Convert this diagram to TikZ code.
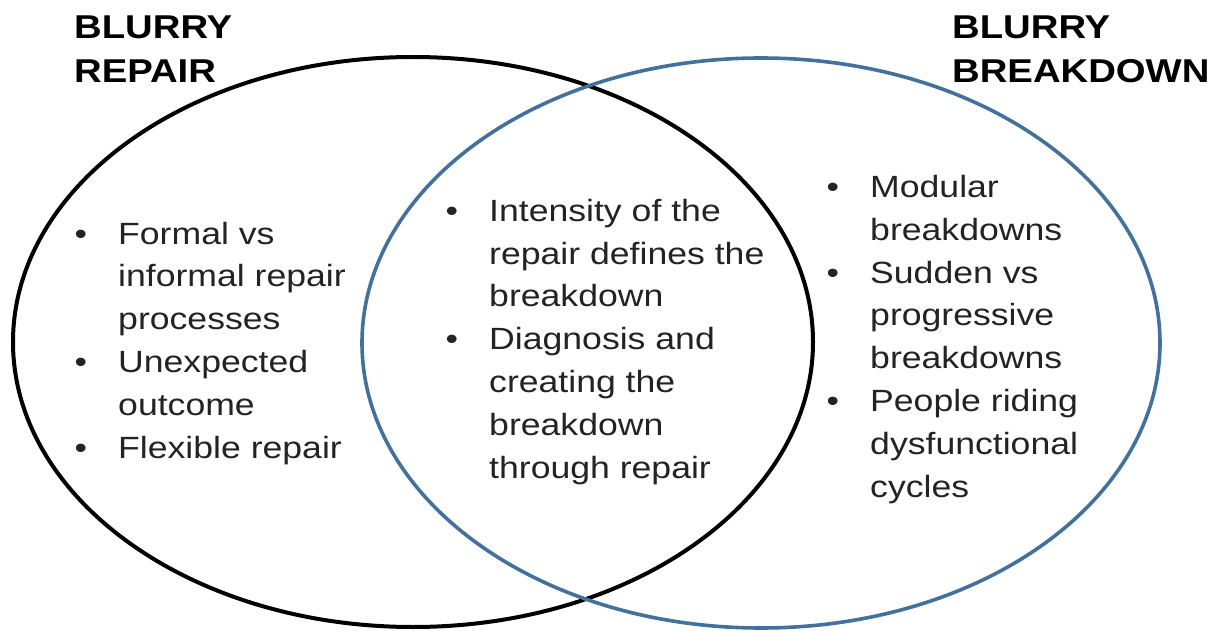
\documentclass[tikz,border=0pt]{standalone}
\usepackage{fontspec}
\setmainfont{Liberation Sans}[FakeStretch=1.16]
\usepackage{xcolor}
\usepackage{tikz}
\usetikzlibrary{positioning}

\definecolor{ringblue}{RGB}{65,113,156}
\definecolor{inkgray}{RGB}{35,35,35}
\newcommand{\blt}{\llap{\textbullet\kern 31pt}}

\begin{document}
\begin{tikzpicture}[
    x=1pt, y=-1pt,
    ring/.style={line width=4pt},
    heading/.style={anchor=base west, inner sep=0pt, align=left, font=\fontsize{33}{44}\selectfont\bfseries},
    points/.style={anchor=base west, inner sep=0pt, align=left, text=inkgray, font=\fontsize{30.7}{42.8}\selectfont}
]
\useasboundingbox (0,0) rectangle (1216,631);

% the two sets
\draw[ring, black] (413,342) ellipse [x radius=400pt, y radius=285pt];
\draw[ring, ringblue, line width=3.6pt] (761,343) ellipse [x radius=399pt, y radius=285pt];

% headings (placed at the baseline of their last line)
\node[heading] (repair) at (74,83) {BLURRY\\REPAIR};
\node[heading] (breakdown) at (952,83) {BLURRY\\BREAKDOWN};

% items
\node[points] (left) at (118,458) {\blt Formal vs\\informal repair\\processes\\\blt Unexpected\\outcome\\\blt Flexible repair};
\node[points] (both) at (489,478) {\blt Intensity of the\\repair defines the\\breakdown\\\blt Diagnosis and\\creating the\\breakdown\\through repair};
\node[points] (right) at (870,497) {\blt Modular\\breakdowns\\\blt Sudden vs\\progressive\\breakdowns\\\blt People riding\\dysfunctional\\cycles};
\end{tikzpicture}
\end{document}
